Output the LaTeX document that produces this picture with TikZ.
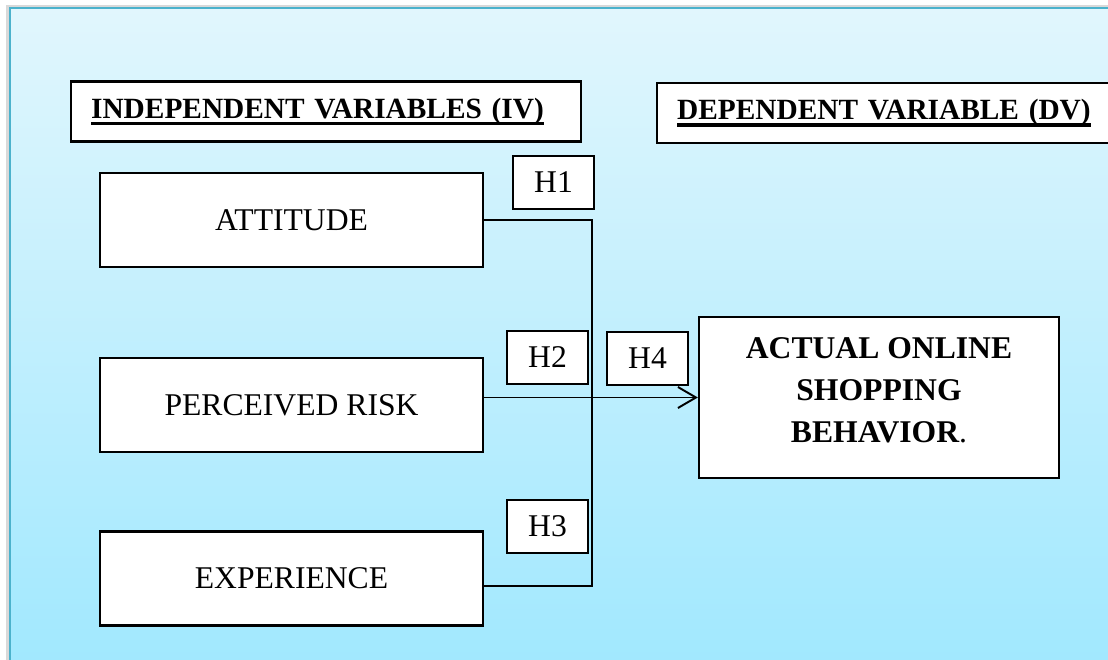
\documentclass[tikz,border=0pt]{standalone}
\usepackage{fontspec}
\setmainfont{Liberation Serif}
\usetikzlibrary{positioning,arrows.meta}
\definecolor{framecol}{RGB}{75,178,204}
\definecolor{skytop}{RGB}{225,246,253}
\definecolor{skybot}{RGB}{160,232,254}
\newcommand{\headul}[1]{\setbox0\hbox{#1}\rlap{\rule[-3.8pt]{\wd0}{1.9pt}}\box0}
\tikzset{
  varbox/.style={rectangle, draw, fill=white, line width=1.3pt, minimum width=7.66cm, minimum height=1.88cm, font=\fontsize{18}{24}\selectfont},
  headbox/.style={rectangle, draw, fill=white, line width=1.3pt, minimum height=1.2cm, inner xsep=0.4cm, align=left, font=\fontsize{16.7}{20}\selectfont\bfseries},
  hypbox/.style={rectangle, draw, fill=white, line width=1.3pt, minimum width=1.62cm, minimum height=1.06cm, inner sep=0pt, font=\fontsize{18}{24}\selectfont},
  dvbox/.style={rectangle, draw, fill=white, line width=1.3pt, minimum width=7.2cm, minimum height=3.22cm, align=center, text depth=0.3cm, font=\fontsize{18}{24}\selectfont\bfseries},
  link/.style={line width=1.1pt},
  fwd/.style={link, -{Straight Barb[length=0.36cm,width=0.42cm,line width=1.1pt]}},
}

\begin{document}
\begin{tikzpicture}
  \useasboundingbox (0,0) rectangle (22.16,-13.2);
  % backdrop
  \fill[gray!30] (0.12,-0.11) rectangle (23,-14);
  \shadedraw[top color=skytop, bottom color=skybot, draw=framecol, line width=1.6pt] (0.2,-0.16) rectangle (23,-13.5);

  \node[headbox, text width=9.4cm, anchor=west] (ivhead) at (1.4,-2.23) {\headul{INDEPENDENT VARIABLES (IV)}};
  \node[headbox, text width=8.3cm, anchor=west] (dvhead) at (13.12,-2.26) {\headul{DEPENDENT VARIABLE (DV)}};

  \node[varbox] (att) at (5.83,-4.40) {ATTITUDE};
  \node[varbox, below=1.78cm of att] (risk) {PERCEIVED RISK};
  \node[varbox, below=1.54cm of risk] (exp) {EXPERIENCE};

  \node[dvbox] (dv) at (17.58,-7.95) {ACTUAL ONLINE\\SHOPPING\\BEHAVIOR{\mdseries.}};

  \node[hypbox] (h1) at (11.07,-3.65) {H1};
  \node[hypbox] (h2) at (10.95,-7.15) {H2};
  \node[hypbox] (h3) at (10.95,-10.53) {H3};
  \node[hypbox] (h4) at (12.95,-7.17) {H4};

  \coordinate (jn) at (11.84,-4.32);
  \draw[link] (att.east) -- (att.east -| jn) -- ([yshift=-0.15cm]exp.east -| jn) -- ([yshift=-0.15cm]exp.east);
  \draw[fwd] (risk.east |- dv.west) -- (dv.west);

\end{tikzpicture}
\end{document}
